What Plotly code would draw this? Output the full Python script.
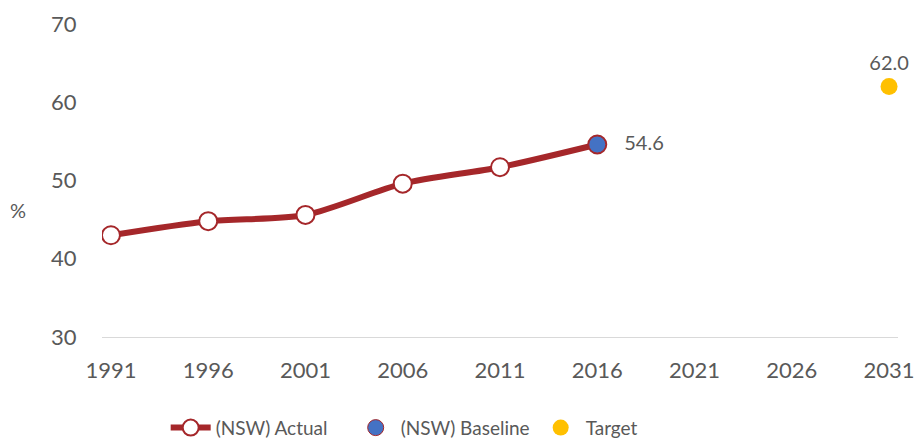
import plotly.graph_objects as go

years = [1991, 1996, 2001, 2006, 2011, 2016]
actual = [43.0, 44.8, 45.6, 49.6, 51.7, 54.6]
baseline_year = [2016]
baseline = [54.6]
target_year = [2031]
target = [62.0]
x_ticks = [1991, 1996, 2001, 2006, 2011, 2016, 2021, 2026, 2031]
y_ticks = [30, 40, 50, 60, 70]

red = '#A5272A'
grey = '#595959'
font = 'Lato'

fig = go.Figure()
fig.add_scatter(x=years, y=actual, name='(NSW) Actual', mode='lines+markers',
                line=dict(color=red, width=6, shape='spline', smoothing=0.8),
                marker=dict(size=18, color='white', line=dict(color=red, width=2)))
fig.add_scatter(x=baseline_year, y=baseline, name='(NSW) Baseline', mode='markers+text',
                marker=dict(size=17, color='#4472C4', line=dict(color=red, width=1)),
                text=['   ' + f'{v:.1f}' for v in baseline], textposition='middle right',
                textfont=dict(size=20, color=grey, family=font), cliponaxis=False)
fig.add_scatter(x=target_year, y=target, name='Target', mode='markers+text',
                marker=dict(size=17, color='#FFC000'),
                text=[f'{v:.1f}' for v in target], textposition='top center',
                textfont=dict(size=20, color=grey, family=font), cliponaxis=False)

fig.update_xaxes(range=[1990.54, 2031.46], tickvals=x_ticks, showgrid=False, zeroline=False,
                 showline=True, linecolor='#D9D9D9', linewidth=1,
                 ticks='outside', ticklen=14, tickcolor='rgba(0,0,0,0)',
                 tickfont=dict(size=22, color=grey, family=font))
fig.update_yaxes(range=[30, 70], tickvals=y_ticks, showgrid=False, zeroline=False,
                 ticks='outside', ticklen=20, tickcolor='rgba(0,0,0,0)',
                 tickfont=dict(size=22, color=grey, family=font))

fig.add_annotation(text='%', xref='paper', yref='paper', x=-0.105, y=0.405, showarrow=False,
                   xanchor='center', yanchor='middle', font=dict(size=20, color=grey, family=font))

fig.update_layout(width=915, height=441, plot_bgcolor='white', paper_bgcolor='white',
                  margin=dict(l=102, r=17, t=24, b=104, autoexpand=False),
                  legend=dict(orientation='h', x=0.08, xanchor='left', y=-0.29, yanchor='middle',
                              itemwidth=40, entrywidth=130,
                              font=dict(size=19, color=grey, family=font)))

fig.write_html("out.html", config={'displayModeBar': False},
               post_script="document.body.style.margin='0';")
